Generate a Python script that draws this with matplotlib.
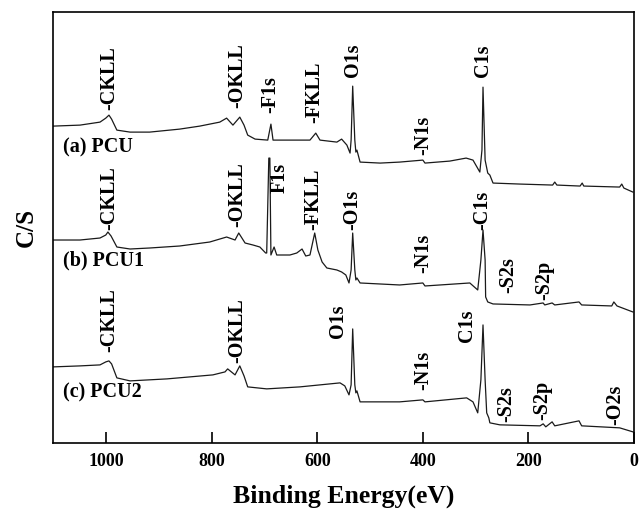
import matplotlib
matplotlib.use('Agg')
import matplotlib.pyplot as plt

plt.rcParams['font.family'] = ['Liberation Serif', 'DejaVu Serif']
plt.rcParams['font.weight'] = 'bold'

# binding energy (eV) and intensity (arbitrary units, stacked) for each sample
pcu_e = [1101, 1050, 1012, 1001, 995, 990, 980, 955, 918, 861, 823, 785, 772, 760, 747, 739,
         732, 718, 694, 688, 684, 652, 614, 603, 595, 563, 554, 544, 538, 536, 533, 529, 527,
         525, 519, 481, 444, 400, 396, 349, 318, 305, 292, 288, 286, 282, 277, 273, 267, 216,
         154, 150, 146, 102, 98, 95, 27, 23, 19, 2]
pcu_i = [317, 318, 321, 325, 328, 324, 313, 311, 311, 314, 317, 321, 325, 318, 326, 318,
         308, 304, 303, 319, 303, 303, 303, 310, 303, 301, 304, 298, 290, 303, 357, 303, 291,
         293, 281, 280, 281, 283, 280, 282, 285, 283, 271, 293, 356, 283, 270, 268, 260, 259,
         258, 261, 258, 257, 260, 257, 256, 259, 255, 251]

pcu1_e = [1101, 1050, 1012, 1001, 997, 991, 980, 955, 918, 861, 804, 772, 756, 749, 737, 722,
          709, 698, 696, 692, 690, 688, 682, 677, 652, 639, 629, 622, 614, 605, 599, 591, 582,
          563, 554, 546, 540, 536, 533, 529, 527, 525, 519, 444, 400, 396, 311, 296, 290, 286,
          282, 281, 277, 267, 197, 172, 169, 155, 150, 104, 99, 42, 38, 32, 2]
pcu1_i = [203, 203, 205, 208, 211, 207, 196, 194, 195, 197, 201, 206, 203, 210, 200, 198,
          196, 190, 190, 285, 285, 188, 196, 188, 188, 190, 194, 187, 188, 210, 193, 181, 175,
          173, 171, 168, 160, 173, 210, 173, 163, 165, 160, 158, 160, 157, 160, 153, 183, 213,
          183, 146, 141, 139, 138, 140, 138, 140, 138, 141, 138, 137, 141, 137, 131]

pcu2_e = [1101, 1050, 1012, 1001, 995, 990, 980, 955, 885, 798, 775, 770, 756, 747, 739, 732,
          696, 633, 595, 557, 548, 540, 536, 533, 529, 527, 525, 519, 444, 400, 396, 317, 305,
          296, 290, 286, 282, 279, 275, 273, 254, 178, 172, 167, 155, 150, 104, 99, 27, 2]
pcu2_i = [76, 77, 78, 81, 82, 79, 65, 62, 64, 68, 71, 74, 68, 77, 67, 56,
          54, 56, 58, 60, 57, 48, 58, 114, 58, 50, 52, 41, 41, 43, 41, 45, 41,
          30, 63, 118, 63, 30, 25, 20, 18, 17, 19, 16, 21, 17, 22, 17, 15, 11]

# peak labels: (text, energy, bottom of text)
pcu_labels = [('-CKLL', 995, 333), ('-OKLL', 751, 335), ('-F1s', 690, 330), ('-FKLL', 605, 320),
              ('O1s', 533, 366), ('-N1s', 400, 288), ('C1s', 286, 366)]
pcu1_labels = [('-CKLL', 995, 213), ('-OKLL', 751, 216), ('F1s', 671, 250), ('-FKLL', 607, 213),
               ('-O1s', 533, 213), ('-N1s', 400, 170), ('-C1s', 288, 213), ('-S2s', 239, 150),
               ('-S2p', 169, 143)]
pcu2_labels = [('-CKLL', 995, 91), ('-OKLL', 751, 80), ('O1s', 561, 105), ('-N1s', 400, 53),
               ('C1s', 317, 101), ('-S2s', 241, 21), ('-S2p', 174, 23), ('-O2s', 36, 18)]

sample_names = ['(a) PCU', '(b) PCU1', '(c) PCU2']
name_y = [296, 183, 50]

fig = plt.figure(figsize=(6.39, 5.09), dpi=100)
ax = fig.add_axes([0.083, 0.130, 0.909, 0.846])

for e, i in [(pcu_e, pcu_i), (pcu1_e, pcu1_i), (pcu2_e, pcu2_i)]:
    ax.plot(e, i, color='#1a1a1a', linewidth=0.9)

for labels in [pcu_labels, pcu1_labels, pcu2_labels]:
    for txt, x, y in labels:
        ax.text(x, y, txt, rotation=90, ha='center', va='bottom',
                fontsize=14.5, fontweight='bold')

for name, y in zip(sample_names, name_y):
    ax.text(1082, y, name, ha='left', va='center', fontsize=14.5, fontweight='bold')

ax.set_xlim(1101, 0)
ax.set_ylim(0, 431)
ax.set_xticks([1000, 800, 600, 400, 200, 0])
ax.set_yticks([])
ax.tick_params(axis='x', direction='in', length=8, width=1.2, pad=7, labelsize=13)
for lab in ax.get_xticklabels():
    lab.set_fontweight('bold')
for sp in ax.spines.values():
    sp.set_linewidth(1.2)

ax.set_xlabel('Binding Energy(eV)', fontsize=18.5, fontweight='bold', labelpad=11)
ax.set_ylabel('C/S', fontsize=18, fontweight='bold', labelpad=11)

fig.savefig('out.png', dpi=100)
